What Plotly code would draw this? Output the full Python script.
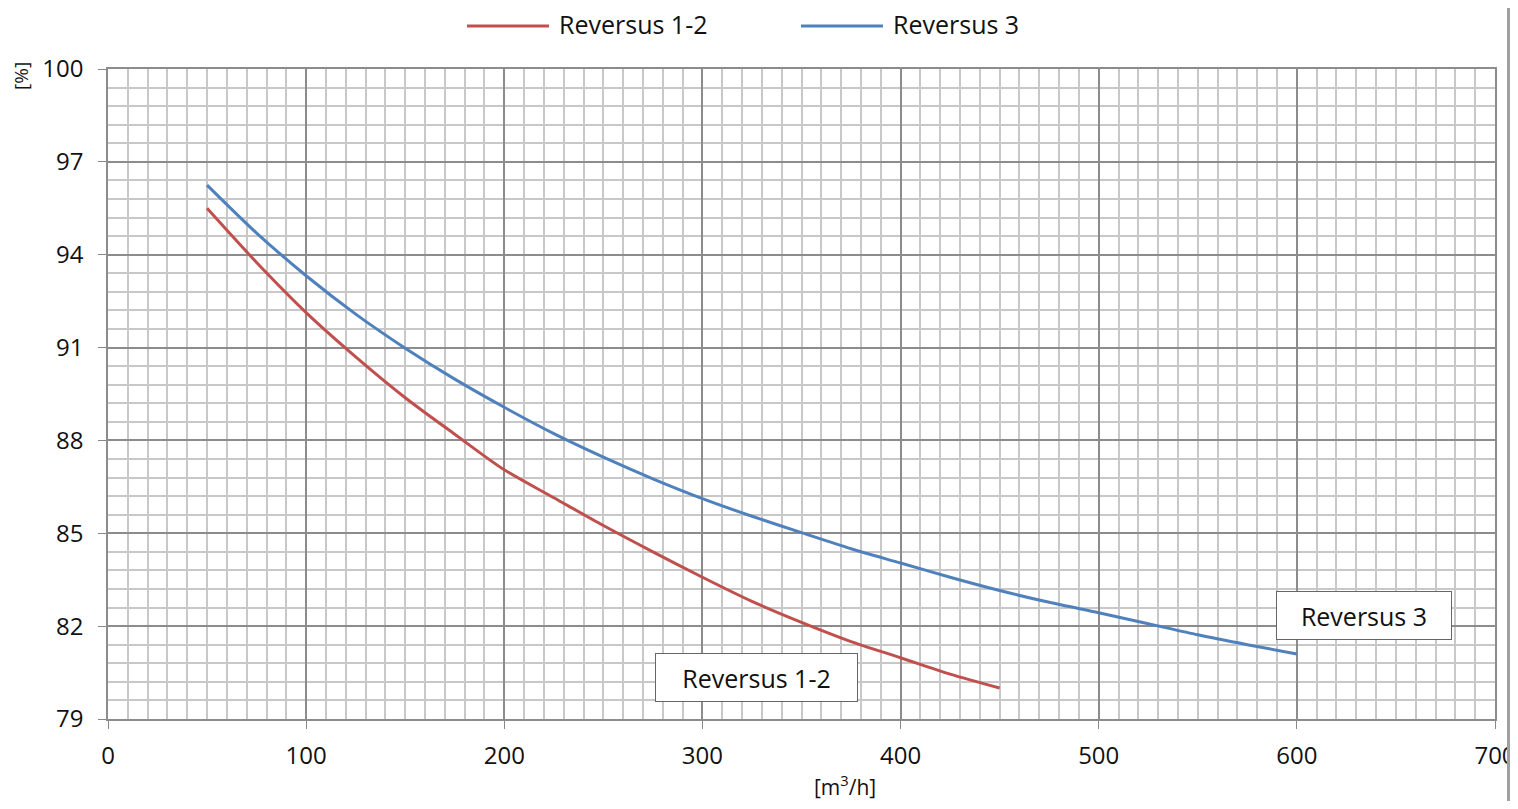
import plotly.graph_objects as go

# Data
x_r12 = [50, 75, 100, 125, 150, 175, 200, 225, 250, 275, 300, 325, 350, 375, 400, 425, 450]
y_r12 = [95.5, 93.75, 92.13, 90.7, 89.38, 88.2, 87.05, 86.15, 85.25, 84.4, 83.58, 82.8, 82.12, 81.5, 80.98, 80.45, 80.0]
x_r3 = [50, 75, 100, 125, 150, 175, 200, 225, 250, 275, 300, 325, 350, 375, 400, 425, 450, 475, 500, 525, 550, 575, 600]
y_r3 = [96.25, 94.7, 93.32, 92.08, 90.98, 89.98, 89.07, 88.22, 87.46, 86.76, 86.12, 85.55, 85.02, 84.5, 84.04, 83.58, 83.15, 82.77, 82.43, 82.08, 81.72, 81.4, 81.1]

names = ["Reversus 1-2", "Reversus 3"]
colors = ["#c0504d", "#4f81bd"]

x_ticks = [0, 100, 200, 300, 400, 500, 600, 700]
y_ticks = [79, 82, 85, 88, 91, 94, 97, 100]

FONT = "Open Sans"
FIG_W, FIG_H = 1502, 793
M_L, M_R, M_T, M_B = 100, 15, 61, 82
PW = float(FIG_W - M_L - M_R)   # plot width in px
PH = float(FIG_H - M_T - M_B)   # plot height in px
X0 = 108.0   # screen x of plot left (8px body margin)
Y0 = 69.0    # screen y of plot top


def px(sx):
    return (sx - X0) / PW


def py(sy):
    return 1 - (sy - Y0) / PH


def dx(sx):
    return px(sx) * 700


def dy(sy):
    return 79 + py(sy) * 21


fig = go.Figure()
fig.add_trace(go.Scatter(x=x_r12, y=y_r12, mode="lines", name=names[0],
                         line=dict(color=colors[0], width=3, shape="spline", smoothing=0.8),
                         showlegend=False))
fig.add_trace(go.Scatter(x=x_r3, y=y_r3, mode="lines", name=names[1],
                         line=dict(color=colors[1], width=3, shape="spline", smoothing=0.8),
                         showlegend=False))

fig.update_xaxes(range=[0, 700], tickvals=x_ticks, ticks="outside", ticklen=8, tickcolor="#888888",
                 showgrid=True, gridcolor="#8c8c8c", gridwidth=1.5,
                 minor=dict(dtick=10, showgrid=True, gridcolor="#c8c8c8", gridwidth=1.5, ticks=""),
                 showline=True, linecolor="#8c8c8c", linewidth=1.5, mirror=True,
                 tickfont=dict(family=FONT, size=24, color="#111111"), ticklabelstandoff=6,
                 ticklabeloverflow="allow", automargin=False, zeroline=False)
fig.update_yaxes(range=[79, 100], tickvals=y_ticks, ticks="outside", ticklen=8, tickcolor="#888888",
                 showgrid=True, gridcolor="#8c8c8c", gridwidth=1.5,
                 minor=dict(dtick=0.6, tick0=79, showgrid=True, gridcolor="#c8c8c8", gridwidth=1.5, ticks=""),
                 showline=True, linecolor="#8c8c8c", linewidth=1.5, mirror=True,
                 tickfont=dict(family=FONT, size=24, color="#111111"), ticklabelstandoff=10,
                 automargin=False, zeroline=False)

annotations = [
    dict(text="[%]", x=px(21), y=py(76), xref="paper", yref="paper", textangle=-90, showarrow=False,
         font=dict(family=FONT, size=19, color="#111111"), xanchor="center", yanchor="middle"),
    dict(text="[m<sup>3</sup>/h]", x=px(845), y=py(785), xref="paper", yref="paper", showarrow=False,
         font=dict(family=FONT, size=21, color="#111111"), xanchor="center", yanchor="middle"),
    dict(text=names[1], x=dx(1364), y=dy(615), xref="x", yref="y", showarrow=False,
         font=dict(family=FONT, size=25, color="#111111"), bgcolor="white",
         bordercolor="#666666", borderwidth=1, width=170, height=43, borderpad=2),
    dict(text=names[0], x=dx(756), y=dy(677.5), xref="x", yref="y", showarrow=False,
         font=dict(family=FONT, size=25, color="#111111"), bgcolor="white",
         bordercolor="#666666", borderwidth=1, width=197, height=43, borderpad=2),
    # custom legend text
    dict(text=names[0], x=px(557), y=py(24), xref="paper", yref="paper",
         showarrow=False, xanchor="left", yanchor="middle",
         font=dict(family=FONT, size=25, color="#111111")),
    dict(text=names[1], x=px(891), y=py(24), xref="paper", yref="paper",
         showarrow=False, xanchor="left", yanchor="middle",
         font=dict(family=FONT, size=25, color="#111111")),
]

shapes = [
    dict(type="line", xref="paper", yref="paper", x0=px(467), x1=px(549),
         y0=py(26), y1=py(26), line=dict(color=colors[0], width=3)),
    dict(type="line", xref="paper", yref="paper", x0=px(801), x1=px(883),
         y0=py(26), y1=py(26), line=dict(color=colors[1], width=3)),
    dict(type="line", xref="paper", yref="paper", x0=px(1508.5), x1=px(1508.5),
         y0=-0.2, y1=1.2, line=dict(color="#a0a0a0", width=3)),
]

# page body has an 8px margin on each side: size figure to fit the 1518x809 window
fig.update_layout(width=FIG_W, height=FIG_H, margin=dict(l=M_L, r=M_R, t=M_T, b=M_B, autoexpand=False),
                  paper_bgcolor="white", plot_bgcolor="white",
                  annotations=annotations, shapes=shapes, showlegend=False,
                  font=dict(family=FONT))

fig.write_html("out.html")
